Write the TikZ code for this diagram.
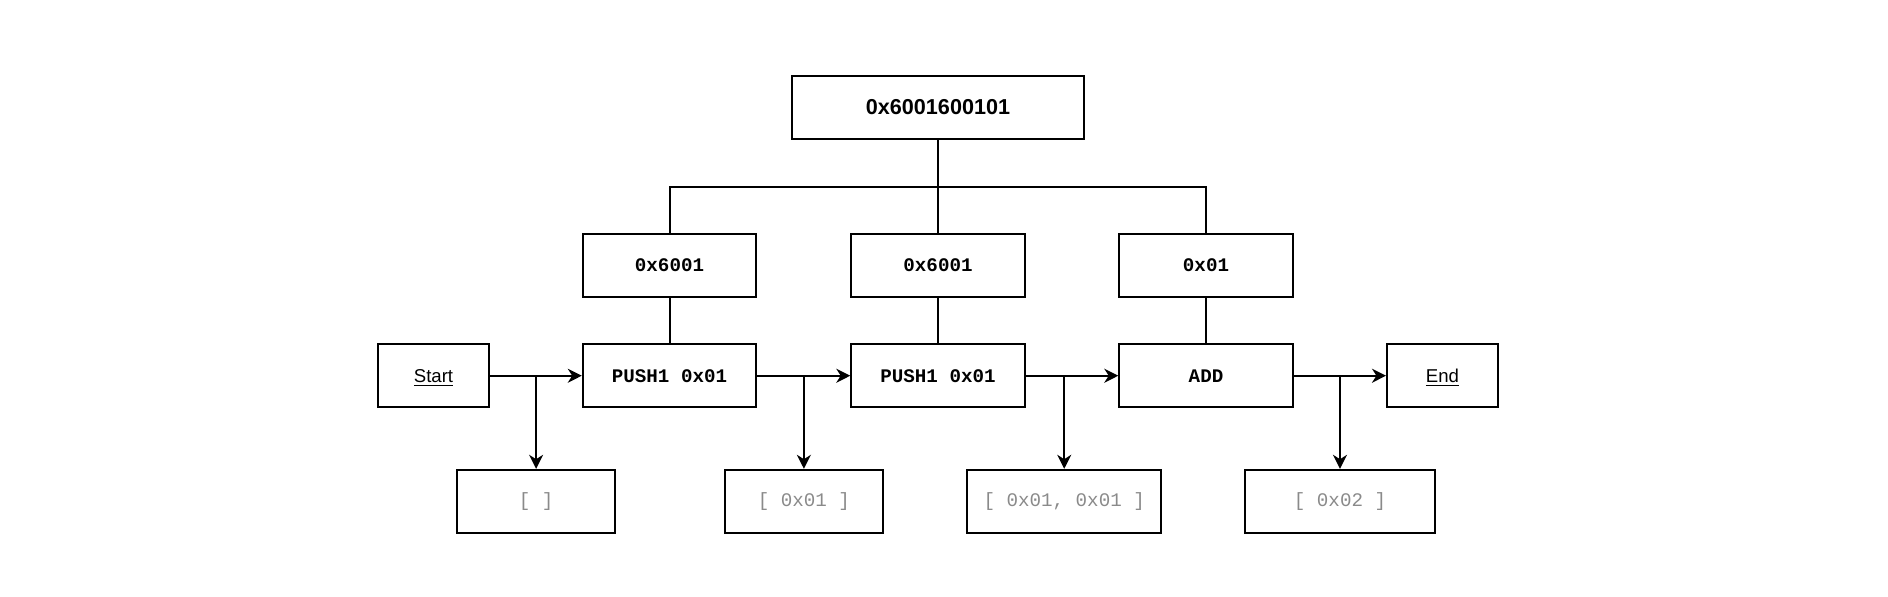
\documentclass[tikz,border=0pt]{standalone}
\usepackage{fontspec}
\setmainfont{Liberation Sans}
\newfontfamily\codefont{Liberation Mono}
\usetikzlibrary{arrows.meta}
\definecolor{stackgray}{HTML}{8A8A8A}
\newcommand{\ulnodepth}[1]{\raisebox{0pt}[\height][0pt]{\underline{#1}}}
\tikzset{
  box/.style={draw=black, line width=1pt, rectangle, inner sep=0pt, minimum height=31.5pt, minimum width=86.7pt},
  topbox/.style={box, minimum width=146pt, font=\fontsize{10.8pt}{12pt}\selectfont\bfseries},
  codebox/.style={box, font=\fontsize{9.6pt}{11pt}\selectfont\codefont\bfseries},
  termbox/.style={box, minimum width=55.5pt, font=\fontsize{9.3pt}{11pt}\selectfont},
  stackbox/.style={box, text=stackgray, font=\fontsize{9.6pt}{11pt}\selectfont\codefont},
  conn/.style={line width=1pt, draw=black},
  arr/.style={conn, -{Stealth[length=7pt,width=7pt,inset=2.2pt]}}
}
\begin{document}
\begin{tikzpicture}[x=0.5pt,y=-0.5pt]
\useasboundingbox (0,0) rectangle (1888,596);
% top
\node[topbox] (top) at (938,107.5) {\raisebox{-0.8pt}{0x6001600101}};
% middle row
\node[codebox] (m1) at (669.5,265.3) {0x6001};
\node[codebox] (m2) at (938,265.3) {0x6001};
\node[codebox] (m3) at (1206,265.3) {0x01};
% instruction row
\node[termbox] (start) at (433.5,375.7) {\ulnodepth{Start}};
\node[codebox] (p1) at (669.5,375.7) {PUSH1 0x01};
\node[codebox] (p2) at (938,375.7) {PUSH1 0x01};
\node[codebox] (add) at (1206,375.7) {ADD};
\node[termbox] (end) at (1442.5,375.7) {\ulnodepth{End}};
% stack row
\node[stackbox, minimum width=78.85pt] (s0) at (536.1,501.3) {[ ]};
\node[stackbox, minimum width=78.85pt] (s1) at (803.9,501.3) {[ 0x01 ]};
\node[stackbox, minimum width=97.2pt] (s2) at (1064.2,501.3) {[ 0x01, 0x01 ]};
\node[stackbox, minimum width=94.7pt] (s3) at (1340,501.3) {[ 0x02 ]};
% tree connectors
\coordinate (bus) at (938,186.5);
\draw[conn] (top) -- (m2);
\draw[conn] (m1.north) |- (bus) -| (m3.north);
\draw[conn] (m1) -- (p1);
\draw[conn] (m2) -- (p2);
\draw[conn] (m3) -- (add);
% flow arrows
\draw[arr] (start) -- (p1);
\draw[arr] (p1) -- (p2);
\draw[arr] (p2) -- (add);
\draw[arr] (add) -- (end);
% branch arrows to stacks
\coordinate (j0) at (s0 |- start);
\coordinate (j1) at (s1 |- p1);
\coordinate (j2) at (s2 |- p2);
\coordinate (j3) at (s3 |- add);
\draw[arr] (j0) -- (s0);
\draw[arr] (j1) -- (s1);
\draw[arr] (j2) -- (s2);
\draw[arr] (j3) -- (s3);
\end{tikzpicture}
\end{document}
